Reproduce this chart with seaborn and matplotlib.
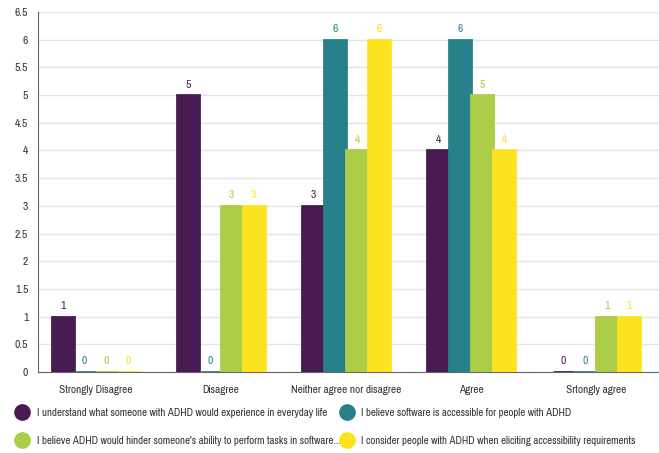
import matplotlib
matplotlib.use("Agg")
import matplotlib.pyplot as plt
from matplotlib.lines import Line2D
import seaborn as sns
import pandas as pd

categories = ["Strongly Disagree", "Disagree", "Neither agree nor disagree", "Agree", "Srtongly agree"]
series_names = [
    "I understand what someone with ADHD would experience in everyday life",
    "I believe software is accessible for people with ADHD",
    "I believe ADHD would hinder someone's ability to perform tasks in software...",
    "I consider people with ADHD when eliciting accessibility requirements",
]
understand = [1, 5, 3, 4, 0]
accessible = [0, 0, 6, 6, 0]
hinder = [0, 3, 4, 5, 1]
consider = [0, 3, 6, 4, 1]
colors = ["#4A1A52", "#27808A", "#ADCC47", "#FDE31F"]
y_ticks = [0, 0.5, 1, 1.5, 2, 2.5, 3, 3.5, 4, 4.5, 5, 5.5, 6, 6.5]

FS = 8.5

sns.set_style("white")
plt.rcParams["font.family"] = ["Pragati Narrow", "Liberation Sans", "DejaVu Sans"]

rows = []
for name, vals in zip(series_names, [understand, accessible, hinder, consider]):
    for cat, v in zip(categories, vals):
        rows.append({"category": cat, "series": name, "value": v})
df = pd.DataFrame(rows)

fig = plt.figure(figsize=(6.59, 4.53), dpi=100)
ax = fig.add_axes([0.0577, 0.1788, 0.9423, 0.7947])

sns.barplot(data=df, x="category", y="value", hue="series", order=categories,
            hue_order=series_names, palette=colors, width=0.7, saturation=1,
            ax=ax, legend=False, zorder=3)

# outline each bar in its own colour so zero-valued bars show as a thin stroke
for container, col in zip(ax.containers, colors):
    for bar in container:
        bar.set_edgecolor(col)
        bar.set_linewidth(2.0)
    ax.bar_label(container, labels=[f"{v:g}" for v in container.datavalues],
                 padding=4, color=col, fontsize=FS + 0.6)

ax.set_ylim(0, 6.5)
ax.set_yticks(y_ticks)
ax.set_yticklabels([f"{t:g}" for t in y_ticks], fontsize=FS + 0.6, color="#333333")
ax.set_xlim(-0.46, 4.5)
ax.tick_params(axis="x", labelsize=FS + 0.3, colors="#333333", length=0, pad=9)
ax.tick_params(axis="y", length=4, width=1, color="#666666", pad=3)
ax.set_xlabel("")
ax.set_ylabel("")
ax.yaxis.grid(True, color="#E3E3E3", linewidth=1, zorder=0)
ax.set_axisbelow(True)
for s in ["top", "right"]:
    ax.spines[s].set_visible(False)
ax.spines["left"].set_color("#666666")
ax.spines["bottom"].set_color("#666666")

handles = [Line2D([], [], marker="o", linestyle="", markersize=11,
                  markerfacecolor=c, markeredgecolor=c) for c in colors]
order = [0, 2, 1, 3]
fig.legend([handles[i] for i in order], [series_names[i] for i in order],
           loc="upper left", bbox_to_anchor=(0.018, 0.111), ncol=2, frameon=False,
           fontsize=FS, handletextpad=0.7, columnspacing=0.0, labelspacing=1.55,
           handlelength=1.0, borderaxespad=0, labelcolor="#333333")

fig.savefig("out.png", dpi=100)
